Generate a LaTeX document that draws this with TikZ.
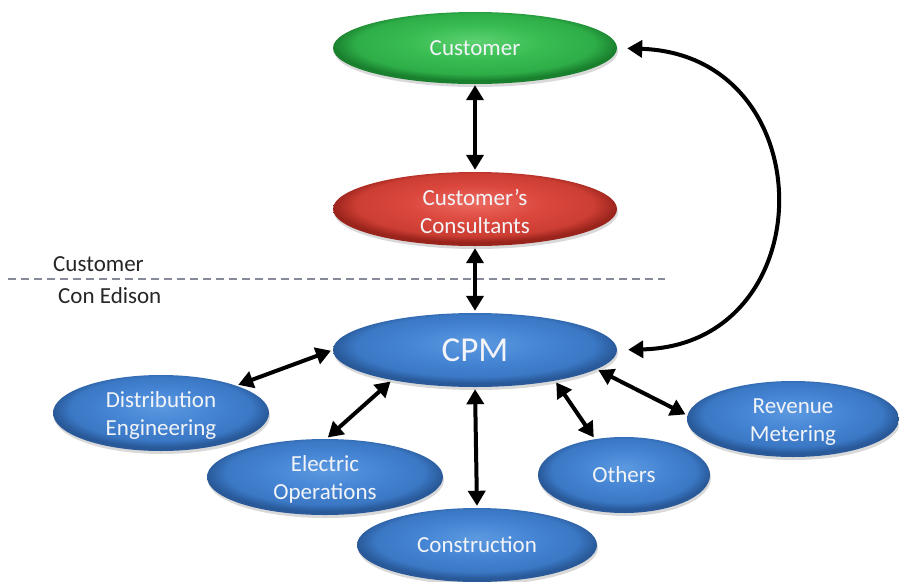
\documentclass[tikz,border=0pt]{standalone}
\usepackage{fontspec}
\setmainfont{Carlito}
\usetikzlibrary{shapes.geometric,arrows.meta,shadows}
\pgfdeclareradialshading{bluesh}{\pgfpoint{0bp}{5bp}}{rgb(0bp)=(0.36,0.60,0.88); rgb(12bp)=(0.27,0.52,0.83); rgb(21bp)=(0.23,0.47,0.77); rgb(25bp)=(0.16,0.35,0.60); rgb(50bp)=(0.16,0.35,0.60)}
\pgfdeclareradialshading{greensh}{\pgfpoint{0bp}{5bp}}{rgb(0bp)=(0.36,0.82,0.44); rgb(12bp)=(0.22,0.74,0.32); rgb(21bp)=(0.18,0.68,0.28); rgb(25bp)=(0.10,0.50,0.18); rgb(50bp)=(0.10,0.50,0.18)}
\pgfdeclareradialshading{redsh}{\pgfpoint{0bp}{5bp}}{rgb(0bp)=(0.93,0.42,0.38); rgb(12bp)=(0.86,0.28,0.24); rgb(21bp)=(0.80,0.24,0.20); rgb(25bp)=(0.60,0.14,0.11); rgb(50bp)=(0.60,0.14,0.11)}
\definecolor{txt}{HTML}{F2F4F8}
\definecolor{dashc}{HTML}{868A99}
\definecolor{lbl}{HTML}{262626}
\tikzset{
  oval/.style={ellipse, inner sep=0pt, text=txt, align=center,
    font=\fontsize{23}{28}\selectfont,
    drop shadow={opacity=0.3, shadow xshift=1pt, shadow yshift=-3pt}},
  blueoval/.style={oval, shading=bluesh},
  greenoval/.style={oval, shading=greensh},
  redoval/.style={oval, shading=redsh},
  conn/.style={{Triangle[width=17pt,length=15pt]}-{Triangle[width=17pt,length=15pt]},
    line width=4pt, shorten >=2pt, shorten <=2pt},
  sidelabel/.style={text=lbl, font=\fontsize{23}{28}\selectfont, anchor=west, inner sep=0pt}
}
\begin{document}
\begin{tikzpicture}[x=1pt,y=-1pt]
\useasboundingbox (0,0) rectangle (899,581);
\node[greenoval, minimum width=284pt, minimum height=72pt] (cust) at (475,48) {Customer};
\node[redoval, minimum width=284pt, minimum height=74pt] (consult) at (475,209) {\rule{0pt}{21pt}Customer’s\\Consultants};
\node[blueoval, minimum width=284pt, minimum height=74pt, font=\fontsize{35}{40}\selectfont] (cpm) at (475,350) {CPM};
\node[blueoval, minimum width=216pt, minimum height=76pt] (dist) at (161,413) {\rule{0pt}{21pt}Distribution\\Engineering};
\node[blueoval, minimum width=236pt, minimum height=76pt] (elec) at (325,477) {\rule{0pt}{21pt}Electric\\Operations};
\node[blueoval, minimum width=240pt, minimum height=74pt] (constr) at (477,545) {Construction};
\node[blueoval, minimum width=172pt, minimum height=76pt] (oth) at (624,475) {Others};
\node[blueoval, minimum width=212pt, minimum height=76pt] (rev) at (793,419) {\rule{0pt}{21pt}Revenue\\Metering};
\node[sidelabel] (lcust) at (53,264) {Customer};
\node[sidelabel] (lcon) at (58,296) {Con Edison};
\coordinate (dl) at (8,279);
\coordinate (dr) at (665,279);
\draw[dashc, line width=2pt, dash pattern=on 8pt off 5pt] (dl) -- (dr);
\draw[conn, shorten <=1pt] (cust.south) -- (consult.north);
\draw[conn] (consult.south) -- (cpm.north);
\draw[conn, shorten <=10pt, shorten >=11pt] (cust.east) .. controls (825,55) and (825,345) .. (cpm.east);
\draw[conn] (cpm.west) -- (dist.20);
\draw[conn] (cpm.200) -- (elec.88);
\draw[conn] (cpm.south) -- (constr.north);
\draw[conn] (cpm.-21) -- (oth.129);
\draw[conn] (cpm.-9) -- (rev.178);
\end{tikzpicture}
\end{document}
